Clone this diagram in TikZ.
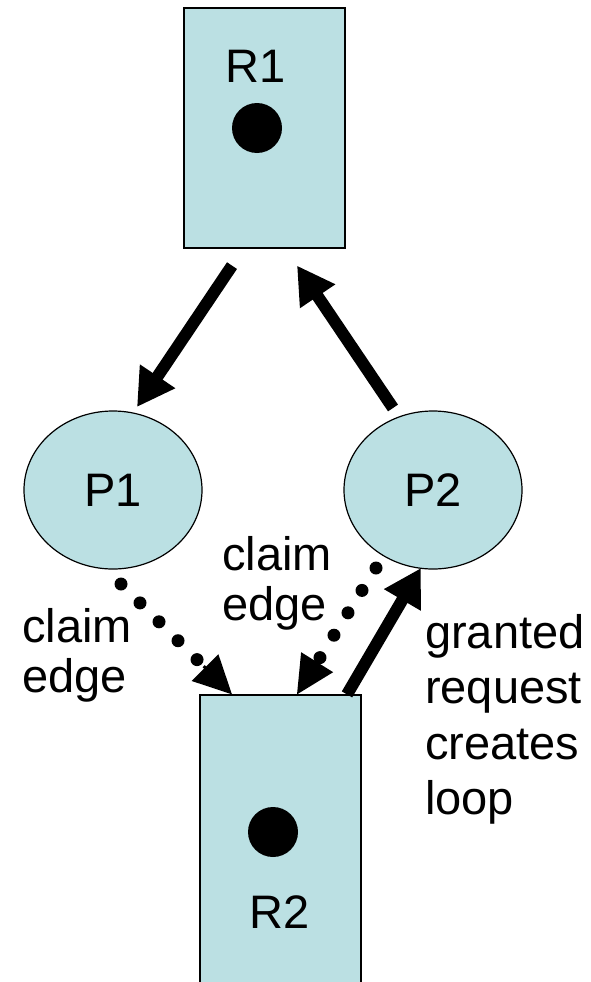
\documentclass[tikz,border=0pt]{standalone}
\usepackage{fontspec}
\setmainfont{Liberation Sans}
\usetikzlibrary{arrows.meta,shapes.geometric,calc}
\definecolor{boxfill}{HTML}{BBE0E3}
\begin{document}
\begin{tikzpicture}[x=1pt,y=-1pt,
  lbl/.style={font=\fontsize{47}{50}\selectfont, inner sep=0pt},
  resbox/.style={draw=black, line width=1.2pt, fill=boxfill, rectangle, inner sep=0pt},
  proc/.style={draw=black, line width=1.2pt, fill=boxfill, ellipse, inner sep=0pt,
    minimum width=178pt, minimum height=158pt, font=\fontsize{47}{50}\selectfont},
  token/.style={circle, fill=black, minimum size=50pt, inner sep=0pt},
  heavyarrow/.style={line width=12pt, -{Triangle[length=37pt,width=40pt]}},
  dothead/.style={line width=3pt, -{Triangle[length=38pt,width=37pt]}},
]
\clip (0,0) rectangle (591,982);
% resources
\node[resbox, minimum width=161pt, minimum height=240pt] (R1) at (264.5,128) {};
\node[resbox, minimum width=161pt, minimum height=320pt] (R2) at (280.5,855) {};
\node[token] (t1) at (257,128) {};
\node[token] (t2) at (273,832) {};
\node[lbl, anchor=base] (R1lbl) at (256,82) {R1};
\node[lbl, anchor=base] (R2lbl) at (280,928) {R2};
% processes
\node[proc] (P1) at (113,490) {P1};
\node[proc] (P2) at (433,490) {P2};
% assignment edge R1 -> P1
\coordinate (a1s) at ($(R1.south)+(-32.5,17)$);
\coordinate (a1t) at ($(P1.center)+(24,-83)$);
\draw[heavyarrow] (a1s) -- (a1t);
% request edge P2 -> R1
\coordinate (a2s) at ($(P2.center)+(-40,-82)$);
\coordinate (a2t) at ($(R1.south)+(32.5,17)$);
\draw[heavyarrow] (a2s) -- (a2t);
% granted request R2 -> P2
\coordinate (a3s) at ($(R2.north)+(66.5,0)$);
\coordinate (a3t) at ($(P2.center)+(-12,78)$);
\draw[heavyarrow] (a3s) -- (a3t);
% claim edge P1 -> R2
\coordinate (d1s) at ($(P1.center)+(8,94)$);
\coordinate (d1t) at ($(R2.north)+(-48.5,0)$);
\coordinate (d1l) at ($(d1s)!0.685!(d1t)$);
\foreach \k in {0,...,4} \fill ($(d1s)!\k/4!(d1l)$) circle (6.5);
\draw[dothead] ($(d1t)!40pt!(d1s)$) -- (d1t);
% claim edge P2 -> R2
\coordinate (d2s) at ($(P2.center)+(-57,78)$);
\coordinate (d2t) at ($(R2.north)+(16.5,0)$);
\coordinate (d2l) at ($(d2s)!0.709!(d2t)$);
\foreach \k in {0,...,4} \fill ($(d2s)!\k/4!(d2l)$) circle (6.5);
\draw[dothead] ($(d2t)!40pt!(d2s)$) -- (d2t);
% labels
\node[lbl, align=left, anchor=north west] (c1) at (22,608) {claim\\edge};
\node[lbl, align=left, anchor=north west] (c2) at (222,536) {claim\\edge};
\node[lbl, font=\fontsize{47}{55.5}\selectfont, align=left, anchor=north west] (g) at (425,614) {granted\\request\\creates\\loop};
\end{tikzpicture}
\end{document}
